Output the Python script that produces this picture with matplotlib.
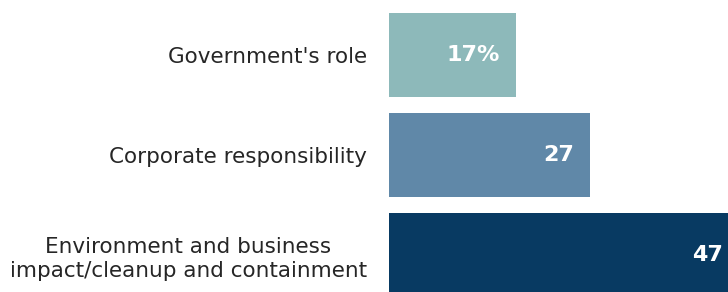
import matplotlib
matplotlib.use('Agg')
import matplotlib.pyplot as plt

categories = ["Government's role", "Corporate responsibility",
              "Environment and business\nimpact/cleanup and containment"]
values = [17, 27, 47]
value_labels = ['17%', '27', '47']
colors = ['#8DB9BA', '#6088A8', '#083A62']

fig = plt.figure(figsize=(7.28, 2.92), dpi=100)
ax = fig.add_axes([389 / 728, 0, 1 - 389 / 728, 1])

pos = list(range(len(values)))
ax.barh(pos, values, height=0.84, color=colors)
ax.set_xlim(0, (728 - 389) / 7.45)
ax.set_ylim(2.37, -0.55)

ax.set_yticks(pos)
ax.set_yticklabels(categories, fontsize=15.5, color='#262626',
                   multialignment='center', linespacing=1.25)
ax.tick_params(axis='y', length=0, pad=16)
ax.set_xticks([])
for s in ax.spines.values():
    s.set_visible(False)

for p, v, lab in zip(pos, values, value_labels):
    ax.annotate(lab, xy=(v, p), xytext=(-16, 0), textcoords='offset pixels',
                ha='right', va='center', color='white', fontsize=16,
                fontweight='bold', annotation_clip=False)

fig.savefig('out.png', dpi=100)
